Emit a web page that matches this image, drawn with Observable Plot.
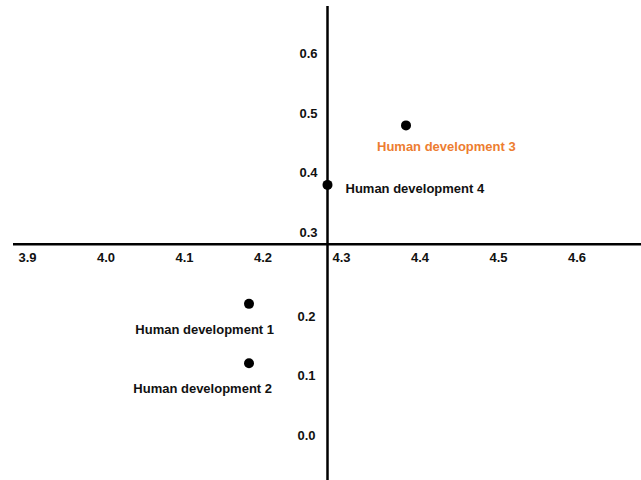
<!DOCTYPE html>
<html><head><meta charset="utf-8">
<script src="https://cdn.jsdelivr.net/npm/d3@7"></script>
<script src="https://cdn.jsdelivr.net/npm/@observablehq/plot@0.6"></script>
<style>html,body{margin:0;padding:0;background:#fff;}</style>
</head><body><div id="chart"></div>
<script>
const names = ["Human development 1", "Human development 2", "Human development 3", "Human development 4"];
const xValues = [4.2, 4.2, 4.4, 4.3];
const yValues = [0.2, 0.1, 0.5, 0.4];
const labelColors = ["#111111", "#111111", "#ED7D31", "#111111"];
const xTicks = [3.9, 4.0, 4.1, 4.2, 4.3, 4.4, 4.5, 4.6];
const yTicksUpper = [0.3, 0.4, 0.5, 0.6];
const yTicksLower = [0.0, 0.1, 0.2];
const xCross = 4.3;
const yCross = 0.3;
const xDomain = [3.9, 4.7];
const yDomain = [-0.097, 0.71];
const yAxisTop = 0.7;

const points = names.map((name, i) => ({name, x: xValues[i], y: yValues[i], color: labelColors[i]}));
const font = {fontSize: 13, fontWeight: "bold", fontFamily: "'Liberation Sans', Arial, Helvetica, sans-serif"};
const pick = n => points.filter(p => p.name === n);

const chart = Plot.plot({
  width: 641,
  height: 480,
  marginLeft: 13,
  marginRight: 0,
  marginTop: 0,
  marginBottom: 0,
  style: {background: "#fff", fontFamily: "'Liberation Sans', Arial, sans-serif"},
  x: {domain: xDomain, axis: null},
  y: {domain: yDomain, axis: null},
  marks: [
    Plot.ruleY([yCross], {x1: xDomain[0], x2: xDomain[1], stroke: "#000", strokeWidth: 2.5}),
    Plot.ruleX([xCross], {y1: yDomain[0], y2: yAxisTop, stroke: "#000", strokeWidth: 2.5}),
    Plot.text(xTicks, {x: d => d, y: yCross, text: d => d.toFixed(1), textAnchor: "start", dx: 5, dy: 13, fill: "#111", ...font}),
    Plot.text(yTicksUpper, {x: xCross, y: d => d, text: d => d.toFixed(1), textAnchor: "end", dx: -10, dy: -12, fill: "#111", ...font}),
    Plot.text(yTicksLower, {x: xCross, y: d => d, text: d => d.toFixed(1), textAnchor: "end", dx: -12, dy: 13, fill: "#111", ...font}),
    Plot.dot(points, {x: "x", y: "y", r: 5, fill: "#000"}),
    Plot.text(pick(names[0]), {x: "x", y: "y", text: "name", fill: "color", textAnchor: "end", dx: 25, dy: 26, ...font}),
    Plot.text(pick(names[1]), {x: "x", y: "y", text: "name", fill: "color", textAnchor: "end", dx: 23, dy: 26, ...font}),
    Plot.text(pick(names[2]), {x: "x", y: "y", text: "name", fill: "color", textAnchor: "start", dx: -29, dy: 21, ...font}),
    Plot.text(pick(names[3]), {x: "x", y: "y", text: "name", fill: "color", textAnchor: "start", dx: 18, dy: 4, ...font})
  ]
});
document.getElementById("chart").appendChild(chart);
</script>
</body></html>
